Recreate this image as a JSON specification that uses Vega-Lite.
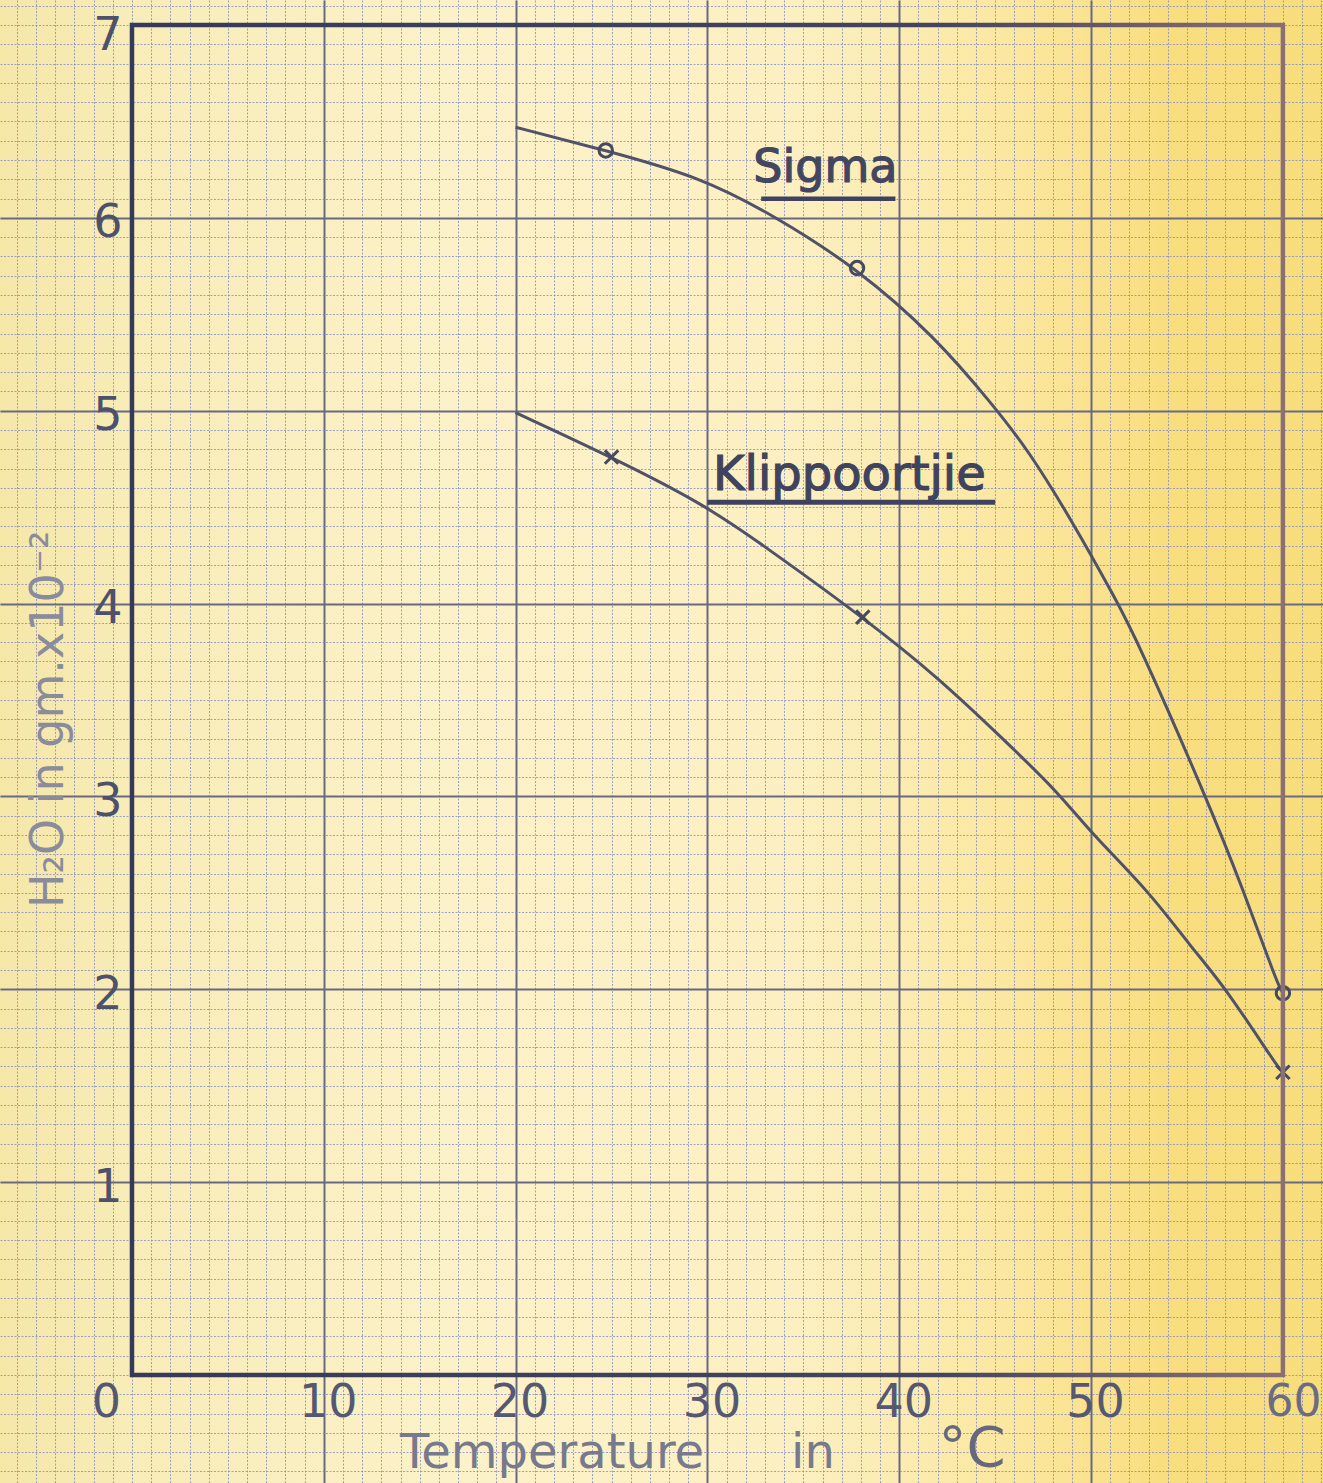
{
  "$schema": "https://vega.github.io/schema/vega-lite/v6.json",
  "width": 1323,
  "height": 1483,
  "autosize": {"type": "none"},
  "padding": 0,
  "background": "#fbefc0",
  "config": {
    "view": {
      "stroke": null,
      "fill": {"gradient": "linear", "x1": 0, "y1": 0, "x2": 1, "y2": 0,
        "stops": [
          {"offset": 0, "color": "#f5e7a8"},
          {"offset": 0.1, "color": "#f8ecb8"},
          {"offset": 0.35, "color": "#fcf2c9"},
          {"offset": 0.6, "color": "#fcf0c2"},
          {"offset": 0.75, "color": "#fbe8a3"},
          {"offset": 0.88, "color": "#f9de80"},
          {"offset": 1, "color": "#f8dd7d"}
        ]}
    }
  },
  "datasets": {
    "curves": [
      {"series": "Sigma", "t": 20.0, "h": 6.47},
      {"series": "Sigma", "t": 24.7, "h": 6.35},
      {"series": "Sigma", "t": 29.7, "h": 6.21},
      {"series": "Sigma", "t": 33.5, "h": 6.01},
      {"series": "Sigma", "t": 37.8, "h": 5.74},
      {"series": "Sigma", "t": 41.9, "h": 5.38},
      {"series": "Sigma", "t": 44.8, "h": 5.04},
      {"series": "Sigma", "t": 46.7, "h": 4.80},
      {"series": "Sigma", "t": 49.0, "h": 4.43},
      {"series": "Sigma", "t": 51.3, "h": 4.02},
      {"series": "Sigma", "t": 52.4, "h": 3.81},
      {"series": "Sigma", "t": 55.9, "h": 3.02},
      {"series": "Sigma", "t": 58.0, "h": 2.50},
      {"series": "Sigma", "t": 59.7, "h": 2.03},
      {"series": "Sigma", "t": 60.0, "h": 1.98},
      {"series": "Klippoortjie", "t": 20.0, "h": 4.99},
      {"series": "Klippoortjie", "t": 25.0, "h": 4.76},
      {"series": "Klippoortjie", "t": 29.9, "h": 4.51},
      {"series": "Klippoortjie", "t": 32.8, "h": 4.31},
      {"series": "Klippoortjie", "t": 38.1, "h": 3.93},
      {"series": "Klippoortjie", "t": 42.0, "h": 3.62},
      {"series": "Klippoortjie", "t": 45.5, "h": 3.29},
      {"series": "Klippoortjie", "t": 48.3, "h": 3.02},
      {"series": "Klippoortjie", "t": 50.0, "h": 2.81},
      {"series": "Klippoortjie", "t": 53.0, "h": 2.51},
      {"series": "Klippoortjie", "t": 55.2, "h": 2.22},
      {"series": "Klippoortjie", "t": 57.0, "h": 2.01},
      {"series": "Klippoortjie", "t": 59.7, "h": 1.60},
      {"series": "Klippoortjie", "t": 60.0, "h": 1.57}
    ],
    "obs": [
      {"series": "Sigma", "t": 24.7, "h": 6.35},
      {"series": "Sigma", "t": 37.8, "h": 5.74},
      {"series": "Sigma", "t": 60.0, "h": 1.98},
      {"series": "Klippoortjie", "t": 25.0, "h": 4.76},
      {"series": "Klippoortjie", "t": 38.1, "h": 3.93},
      {"series": "Klippoortjie", "t": 60.0, "h": 1.57}
    ]
  },
  "resolve": {"axis": {"x": "independent", "y": "independent"}},
  "layer": [
    {
      "data": {"name": "curves"},
      "mark": {"type": "line", "interpolate": "basis", "strokeWidth": 3, "stroke": "#50526a"},
      "encoding": {
        "x": {"field": "t", "type": "quantitative",
          "scale": {"domain": [-6.88, 62.09], "nice": false, "zero": false},
          "axis": {"orient": "bottom", "values": [-6,-5,-4,-3,-2,-1,0,1,2,3,4,5,6,7,8,9,10,11,12,13,14,15,16,17,18,19,20,21,22,23,24,25,26,27,28,29,30,31,32,33,34,35,36,37,38,39,40,41,42,43,44,45,46,47,48,49,50,51,52,53,54,55,56,57,58,59,60,61,62],
            "grid": true, "gridColor": "#7d87c2", "gridWidth": 1, "gridDash": [2, 1.5], "gridOpacity": 0.75,
            "labels": false, "ticks": false, "domain": false, "title": null}},
        "y": {"field": "h", "type": "quantitative",
          "scale": {"domain": [-0.56, 7.13], "nice": false, "zero": false},
          "axis": {"orient": "left", "values": [-0.5,-0.4,-0.3,-0.2,-0.1,0,0.1,0.2,0.3,0.4,0.5,0.6,0.7,0.8,0.9,1,1.1,1.2,1.3,1.4,1.5,1.6,1.7,1.8,1.9,2,2.1,2.2,2.3,2.4,2.5,2.6,2.7,2.8,2.9,3,3.1,3.2,3.3,3.4,3.5,3.6,3.7,3.8,3.9,4,4.1,4.2,4.3,4.4,4.5,4.6,4.7,4.8,4.9,5,5.1,5.2,5.3,5.4,5.5,5.6,5.7,5.8,5.9,6,6.1,6.2,6.3,6.4,6.5,6.6,6.7,6.8,6.9,7,7.1],
            "grid": true, "gridColor": "#7d87c2", "gridWidth": 1, "gridDash": [2, 1.5], "gridOpacity": 0.75,
            "labels": false, "ticks": false, "domain": false, "title": null}},
        "detail": {"field": "series"}
      }
    },
    {
      "data": {"name": "obs"},
      "mark": {"type": "point", "filled": false, "strokeWidth": 3, "size": 180, "color": "#464962", "opacity": 1},
      "encoding": {
        "x": {"field": "t", "type": "quantitative",
          "scale": {"domain": [-6.88, 62.09], "nice": false, "zero": false},
          "axis": {"orient": "bottom", "values": [10, 20, 30, 40, 50],
            "grid": true, "gridColor": "#686a84", "gridWidth": 2,
            "labels": false, "ticks": false, "domain": false, "title": null}},
        "y": {"field": "h", "type": "quantitative",
          "scale": {"domain": [-0.56, 7.13], "nice": false, "zero": false},
          "axis": {"orient": "left", "values": [1, 2, 3, 4, 5, 6],
            "grid": true, "gridColor": "#686a84", "gridWidth": 2,
            "labels": false, "ticks": false, "domain": false, "title": null}},
        "shape": {"field": "series", "type": "nominal",
          "scale": {"domain": ["Sigma", "Klippoortjie"], "range": ["circle", "M-1,-1L1,1M1,-1L-1,1"]},
          "legend": null}
      }
    },
    {
      "data": {"values": [{"part": "frame"}]},
      "mark": {"type": "rect", "filled": false, "strokeWidth": 4.5,
        "stroke": {"gradient": "linear", "x1": 0, "y1": 0, "x2": 1, "y2": 0,
          "stops": [{"offset": 0, "color": "#363a5a"}, {"offset": 0.7, "color": "#43455f"}, {"offset": 1, "color": "#8a6f74"}]}},
      "encoding": {
        "x": {"datum": 0, "type": "quantitative",
          "scale": {"domain": [-6.88, 62.09], "nice": false, "zero": false},
          "axis": {"orient": "bottom", "values": [10, 20, 30, 40, 50], "offset": -103, "labelOffset": 4,
            "grid": false, "ticks": false, "tickSize": 0, "domain": false, "title": null,
            "labelFont": "DejaVu Sans", "labelFontSize": 46, "labelColor": "#555872",
            "labelPadding": 0, "labelBaseline": "top", "labelFlush": false, "labelOverlap": false, "labelBound": false}},
        "x2": {"datum": 60},
        "y": {"datum": 0, "type": "quantitative",
          "scale": {"domain": [-0.56, 7.13], "nice": false, "zero": false},
          "axis": {"orient": "left", "values": [1, 2, 3, 4, 5, 6], "offset": -124, "labelOffset": 5,
            "grid": false, "ticks": false, "tickSize": 0, "domain": false, "title": null,
            "labelFont": "DejaVu Sans", "labelFontSize": 46, "labelColor": "#4e516c",
            "labelPadding": 2, "labelBaseline": "middle", "labelFlush": false, "labelOverlap": false, "labelBound": false}},
        "y2": {"datum": 7}
      }
    },
    {
      "data": {"values": [{"label": "Sigma"}]},
      "mark": {"type": "text", "font": "DejaVu Sans", "fontSize": 46, "fill": "#434660", "stroke": "#434660", "strokeWidth": 1.2, "align": "center", "baseline": "alphabetic"},
      "encoding": {
        "text": {"field": "label"},
        "x": {"datum": 36.15, "type": "quantitative",
          "scale": {"domain": [-6.88, 62.09], "nice": false, "zero": false},
          "axis": {"orient": "bottom", "values": [0], "offset": -103, "labelOffset": -26,
            "grid": false, "ticks": false, "tickSize": 0, "domain": false, "title": null,
            "labelFont": "DejaVu Sans", "labelFontSize": 46, "labelColor": "#555872",
            "labelPadding": 0, "labelBaseline": "top", "labelFlush": false, "labelOverlap": false, "labelBound": false}},
        "y": {"datum": 6.185, "type": "quantitative",
          "scale": {"domain": [-0.56, 7.13], "nice": false, "zero": false},
          "axis": {"orient": "left", "values": [7], "offset": -124, "labelOffset": 10,
            "grid": false, "ticks": false, "tickSize": 0, "domain": false, "title": null,
            "labelFont": "DejaVu Sans", "labelFontSize": 46, "labelColor": "#4e516c",
            "labelPadding": 2, "labelBaseline": "middle", "labelFlush": false, "labelOverlap": false, "labelBound": false}}
      }
    },
    {
      "data": {"values": [{"part": "underline"}]},
      "mark": {"type": "rule", "strokeWidth": 4.5, "color": "#3f425e"},
      "encoding": {
        "x": {"datum": 32.8, "type": "quantitative", "axis": null},
        "x2": {"datum": 39.8},
        "y": {"datum": 6.10, "type": "quantitative", "axis": null}
      }
    },
    {
      "data": {"values": [{"label": "Klippoortjie"}]},
      "mark": {"type": "text", "font": "DejaVu Sans", "fontSize": 48, "fill": "#40435d", "stroke": "#40435d", "strokeWidth": 1.2, "align": "center", "baseline": "alphabetic"},
      "encoding": {
        "text": {"field": "label"},
        "x": {"datum": 37.4, "type": "quantitative",
          "scale": {"domain": [-6.88, 62.09], "nice": false, "zero": false},
          "axis": {"orient": "bottom", "values": [60], "offset": -103, "labelOffset": 10,
            "grid": false, "ticks": false, "tickSize": 0, "domain": false, "title": null,
            "labelFont": "DejaVu Sans", "labelFontSize": 44, "labelColor": "#6a6c82",
            "labelPadding": 0, "labelBaseline": "top", "labelFlush": false, "labelOverlap": false, "labelBound": false}},
        "y": {"datum": 4.588, "type": "quantitative", "axis": null}
      }
    },
    {
      "data": {"values": [{"part": "underline"}]},
      "mark": {"type": "rule", "strokeWidth": 5, "color": "#3f425e"},
      "encoding": {
        "x": {"datum": 30.0, "type": "quantitative", "axis": null},
        "x2": {"datum": 45.0},
        "y": {"datum": 4.526, "type": "quantitative", "axis": null}
      }
    },
    {
      "data": {"values": [{"label": "Temperature"}]},
      "mark": {"type": "text", "font": "DejaVu Sans", "fontSize": 48, "fill": "#77798d", "align": "center", "baseline": "alphabetic"},
      "encoding": {
        "text": {"field": "label"},
        "x": {"datum": 21.9, "type": "quantitative", "axis": null},
        "y": {"datum": -0.48, "type": "quantitative", "axis": null}
      }
    },
    {
      "data": {"values": [{"label": "in"}]},
      "mark": {"type": "text", "font": "DejaVu Sans", "fontSize": 48, "fill": "#77798d", "align": "center", "baseline": "alphabetic"},
      "encoding": {
        "text": {"field": "label"},
        "x": {"datum": 35.5, "type": "quantitative", "axis": null},
        "y": {"datum": -0.48, "type": "quantitative", "axis": null}
      }
    },
    {
      "data": {"values": [{"label": "°C"}]},
      "mark": {"type": "text", "font": "DejaVu Sans", "fontSize": 56, "fill": "#66687e", "align": "center", "baseline": "alphabetic"},
      "encoding": {
        "text": {"field": "label"},
        "x": {"datum": 43.8, "type": "quantitative", "axis": null},
        "y": {"datum": -0.47, "type": "quantitative", "axis": null}
      }
    },
    {
      "data": {"values": [{"label": "H₂O in gm.x10⁻²"}]},
      "mark": {"type": "text", "font": "DejaVu Sans", "fontSize": 46, "fill": "#8a8c9c", "angle": 270, "align": "center", "baseline": "middle"},
      "encoding": {
        "text": {"field": "label"},
        "x": {"datum": -4.3, "type": "quantitative", "axis": null},
        "y": {"datum": 3.40, "type": "quantitative", "axis": null}
      }
    }
  ]
}
